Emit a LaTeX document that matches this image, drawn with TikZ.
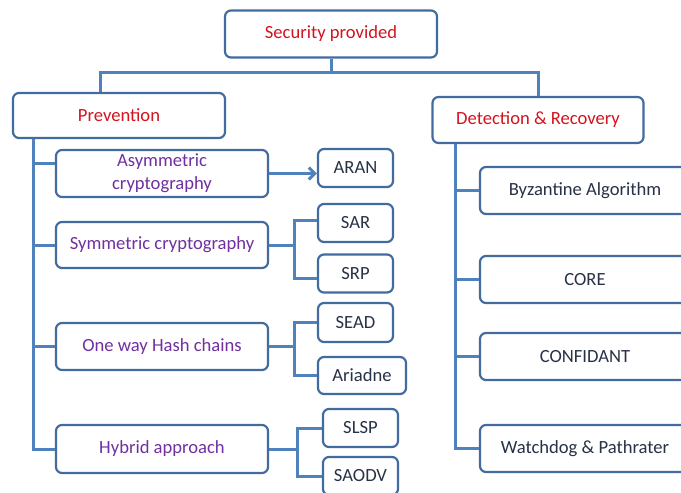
\documentclass[tikz,border=0pt]{standalone}
\usepackage{fontspec}
\setmainfont{Carlito}
\usetikzlibrary{arrows.meta}
\definecolor{boxblue}{RGB}{66,107,160}
\definecolor{linkblue}{RGB}{79,129,189}
\definecolor{headred}{RGB}{210,20,30}
\definecolor{subpurple}{RGB}{112,48,160}
\definecolor{leafgray}{RGB}{40,50,70}
\begin{document}
\begin{tikzpicture}[x=1pt, y=-1pt,
    box/.style={draw=boxblue, line width=2.2pt, rounded corners=6pt, fill=white, minimum width=212pt, minimum height=47pt, inner sep=0pt, font=\fontsize{18.6}{23}\selectfont, align=center},
    head/.style={box, text=headred},
    sub/.style={box, text=subpurple},
    leaf/.style={box, text=leafgray, minimum width=75pt, minimum height=38pt},
    link/.style={draw=linkblue, line width=3pt}]
  \clip (0,0) rectangle (681,493);
  % top level
  \node[head] (sec) at (331,34) {Security provided};
  \node[head, minimum height=45pt] (prev) at (119,115.5) {Prevention};
  \node[head, minimum width=211pt, minimum height=46pt] (det) at (538,120) {Detection \& Recovery};
  % prevention side
  \node[sub] (asym) at (162,173.5) {Asymmetric\\cryptography};
  \node[sub, minimum height=46pt] (sym) at (162,245) {Symmetric cryptography};
  \node[sub] (hash) at (162,346.5) {One way Hash chains};
  \node[sub, minimum height=48pt] (hyb) at (162,449) {Hybrid approach};
  \node[leaf] (aran) at (355.5,168) {ARAN};
  \node[leaf] (sar) at (355.5,223) {SAR};
  \node[leaf] (srp) at (355.5,273.5) {SRP};
  \node[leaf, minimum height=39pt] (sead) at (355.5,322.5) {SEAD};
  \node[leaf, minimum width=88pt, minimum height=37pt] (ariadne) at (362,375.5) {Ariadne};
  \node[leaf] (slsp) at (360.5,428) {SLSP};
  \node[leaf] (saodv) at (360.5,476) {SAODV};
  % detection side
  \node[leaf, minimum width=210pt, minimum height=47pt] (byz) at (585,190.5) {Byzantine Algorithm};
  \node[leaf, minimum width=210pt, minimum height=47pt] (core) at (585,279.5) {CORE};
  \node[leaf, minimum width=210pt, minimum height=47pt] (conf) at (585,356.5) {CONFIDANT};
  \node[leaf, minimum width=210pt, minimum height=47pt] (watch) at (585,448.5) {Watchdog \& Pathrater};
  % connectors
  \coordinate (hub) at (331,72);
  \draw[link] (sec.south) -- (hub);
  \draw[link] ([xshift=-19pt]prev.north) |- (hub) -| (det.north);
  \coordinate (ltrunk) at ([xshift=-86pt]prev.south);
  \draw[link] (ltrunk) |- (hyb.west);
  \draw[link] ([yshift=10pt]asym.west) -- ([yshift=10pt]asym.west -| ltrunk);
  \foreach \n in {sym,hash}
    \draw[link] (\n.west) -- (\n.west -| ltrunk);
  \draw[link, -{Straight Barb[length=6pt,width=12pt]}] (asym.east) -- (asym.east -| aran.west);
  \draw[link] (sym.east) -- ++(25,0) |- ([yshift=3pt]sar.west) (sym.east) ++(25,0) |- ([yshift=-5pt]srp.west);
  \draw[link] (hash.east) -- ++(25,0) |- (sead.west) (hash.east) ++(25,0) |- (ariadne.west);
  \draw[link] (hyb.east) -- ++(28,0) |- (slsp.west) (hyb.east) ++(28,0) |- (saodv.west);
  \coordinate (rtrunk) at ([xshift=-83pt]det.south);
  \draw[link] (rtrunk) |- (watch.west);
  \foreach \n in {byz,core,conf}
    \draw[link] (\n.west) -- (\n.west -| rtrunk);
\end{tikzpicture}
\end{document}
